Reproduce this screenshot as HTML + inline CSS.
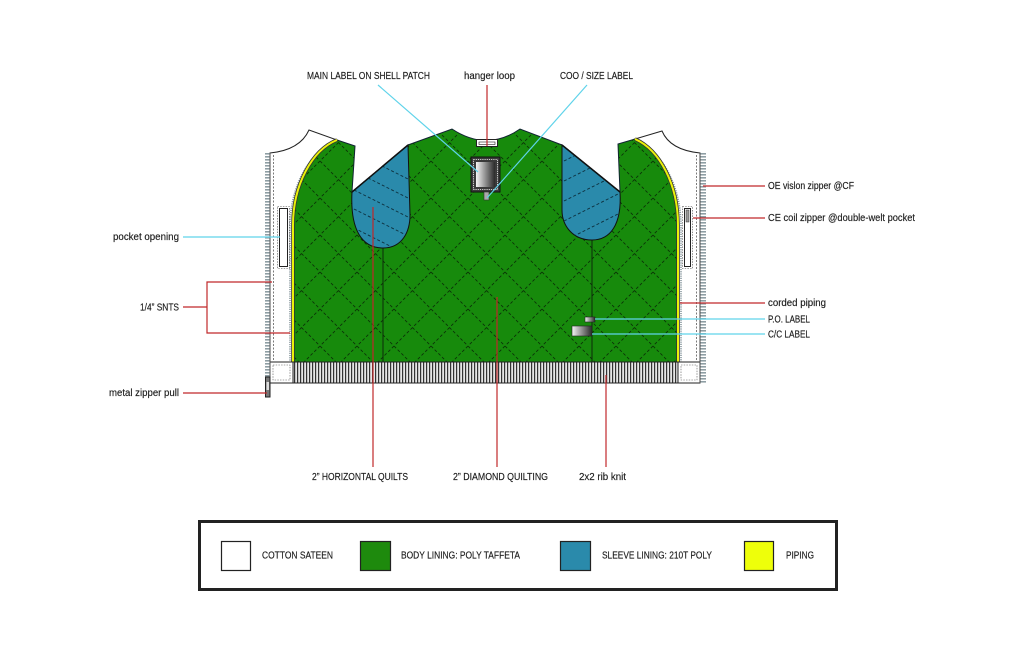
<!DOCTYPE html>
<html><head><meta charset="utf-8"><style>
html,body{margin:0;padding:0;background:#fff;}
svg{display:block;}
text{font-family:"Liberation Sans",sans-serif;font-size:10px;fill:#1a1a1a;stroke:#1a1a1a;stroke-width:0.15px;}
</style></head><body>
<svg width="1024" height="662" viewBox="0 0 1024 662" xmlns="http://www.w3.org/2000/svg">
<defs>
  <pattern id="quilt" patternUnits="userSpaceOnUse" width="37" height="37" patternTransform="translate(24,13)">
    <line x1="0" y1="0" x2="37" y2="37" stroke="#0a3306" stroke-width="0.9" stroke-dasharray="3 2.2"/>
    <line x1="37" y1="0" x2="0" y2="37" stroke="#0a3306" stroke-width="0.9" stroke-dasharray="3 2.2"/>
  </pattern>
  <pattern id="teeth" patternUnits="userSpaceOnUse" width="6" height="3">
    <rect x="0" y="0" width="6" height="1.6" fill="#8e9ea4"/>
  </pattern>
  <pattern id="rib" patternUnits="userSpaceOnUse" width="3" height="10">
    <rect x="0" y="0" width="3" height="10" fill="#e6e6e6"/>
    <rect x="0" y="0" width="1.2" height="10" fill="#333"/>
  </pattern>
  <linearGradient id="lg" x1="0" x2="1" y1="0" y2="0">
    <stop offset="0" stop-color="#f4f4f4"/>
    <stop offset="1" stop-color="#2a2a2a"/>
  </linearGradient>
  <clipPath id="clipL"><path d="M408,145 L352,192 C350,230 362,248 383,248 C402,248 410,232 410,215 Z"/></clipPath>
  <clipPath id="clipR"><path d="M562,145 L620,192 C622,225 610,240 592,240 C572,240 562,225 562,210 Z"/></clipPath>
</defs>

<!-- Green body -->
<path d="M337,140 L355,146 L352,192 L408,145 L452,129 Q487,152 520,129 L562,145 L620,192 L618,144 L635,139 C660,150 678,185 678,225 L678,362 L293,362 L293,225 C293,185 312,150 337,140 Z" fill="#178a0c" stroke="#123" stroke-width="1"/>
<path d="M337,140 L355,146 L352,192 L408,145 L452,129 Q487,152 520,129 L562,145 L620,192 L618,144 L635,139 C660,150 678,185 678,225 L678,362 L293,362 L293,225 C293,185 312,150 337,140 Z" fill="url(#quilt)"/>

<!-- princess seams -->
<line x1="383" y1="246" x2="383" y2="362" stroke="#0d2a0a" stroke-width="1"/>
<line x1="592" y1="238" x2="592" y2="362" stroke="#0d2a0a" stroke-width="1"/>

<!-- Blue sleeve linings -->
<path d="M408,145 L352,192 C350,230 362,248 383,248 C402,248 410,232 410,215 Z" fill="#2a8aab" stroke="#111" stroke-width="1"/>
<g clip-path="url(#clipL)" stroke="#0d2f3d" stroke-width="0.9" stroke-dasharray="3 2.2">
  <line x1="340" y1="145" x2="420" y2="185"/>
  <line x1="340" y1="164" x2="420" y2="204"/>
  <line x1="340" y1="183" x2="420" y2="223"/>
  <line x1="340" y1="202" x2="420" y2="242"/>
  <line x1="340" y1="221" x2="420" y2="261"/>
</g>
<path d="M562,145 L620,192 C622,225 610,240 592,240 C572,240 562,225 562,210 Z" fill="#2a8aab" stroke="#111" stroke-width="1"/>
<g clip-path="url(#clipR)" stroke="#0d2f3d" stroke-width="0.9" stroke-dasharray="3 2.2">
  <line x1="550" y1="168" x2="630" y2="128"/>
  <line x1="550" y1="188" x2="630" y2="148"/>
  <line x1="550" y1="208" x2="630" y2="168"/>
  <line x1="550" y1="228" x2="630" y2="188"/>
  <line x1="550" y1="248" x2="630" y2="208"/>
</g>
<line x1="408" y1="145" x2="352" y2="192" stroke="#111" stroke-width="1.5"/>
<line x1="562" y1="145" x2="620" y2="192" stroke="#111" stroke-width="1.5"/>

<!-- White front panels -->
<path d="M270,153 Q300,150 309,130 L337,140 C312,150 293,185 293,225 L293,383 L270,383 Z" fill="#fff" stroke="#222" stroke-width="1"/>
<path d="M700,153 Q670,150 662,131 L635,139 C660,150 678,185 678,225 L678,383 L700,383 Z" fill="#fff" stroke="#222" stroke-width="1"/>
<!-- stitching -->
<line x1="273.5" y1="155" x2="273.5" y2="381" stroke="#444" stroke-width="0.7" stroke-dasharray="2 1.5"/>
<line x1="696.5" y1="155" x2="696.5" y2="381" stroke="#444" stroke-width="0.7" stroke-dasharray="2 1.5"/>
<path d="M334,142 C310,152 290,186 290,226 L290,362" fill="none" stroke="#8a9aa0" stroke-width="1.6" stroke-dasharray="1.2 1"/>
<path d="M638,141 C662,152 681,186 681,226 L681,362" fill="none" stroke="#8a9aa0" stroke-width="1.6" stroke-dasharray="1.2 1"/>

<!-- piping -->
<path d="M337,140 C312,150 293,185 293,225 L293,362" fill="none" stroke="#333" stroke-width="3.6"/>
<path d="M337,140 C312,150 293,185 293,225 L293,362" fill="none" stroke="#eaf20a" stroke-width="2"/>
<path d="M635,139 C660,150 678,185 678,225 L678,362" fill="none" stroke="#333" stroke-width="3.6"/>
<path d="M635,139 C660,150 678,185 678,225 L678,362" fill="none" stroke="#eaf20a" stroke-width="2"/>

<!-- Rib knit -->
<rect x="293" y="362" width="385" height="21" fill="url(#rib)" stroke="#222" stroke-width="1"/>
<rect x="270" y="362" width="23" height="21" fill="#fff" stroke="#222" stroke-width="1"/>
<rect x="273" y="365" width="17" height="15" fill="none" stroke="#555" stroke-width="0.6" stroke-dasharray="1.5 1.2"/>
<rect x="678" y="362" width="22" height="21" fill="#fff" stroke="#222" stroke-width="1"/>
<rect x="681" y="365" width="16" height="15" fill="none" stroke="#555" stroke-width="0.6" stroke-dasharray="1.5 1.2"/>

<!-- Zipper teeth -->
<rect x="265" y="153" width="5" height="230" fill="url(#teeth)"/>
<line x1="270" y1="153" x2="270" y2="383" stroke="#555" stroke-width="0.8"/>
<rect x="700.5" y="153" width="5.5" height="230" fill="url(#teeth)"/>
<line x1="700" y1="153" x2="700" y2="383" stroke="#555" stroke-width="0.8"/>
<!-- zipper pull -->
<rect x="265.5" y="377" width="4.5" height="20" fill="#777" stroke="#222" stroke-width="1"/>
<rect x="266.5" y="382" width="2.5" height="8" fill="#ddd"/>

<!-- pockets -->
<rect x="277.5" y="206.5" width="12" height="62" fill="none" stroke="#444" stroke-width="0.6" stroke-dasharray="1.5 1.2"/>
<rect x="279.5" y="208.5" width="8" height="58" fill="#fff" stroke="#222" stroke-width="1"/>
<rect x="682.5" y="206.5" width="10" height="62" fill="none" stroke="#444" stroke-width="0.6" stroke-dasharray="1.5 1.2"/>
<rect x="684.5" y="208.5" width="6" height="58" fill="#fff" stroke="#222" stroke-width="1"/>
<rect x="686" y="210" width="3" height="12" fill="#999" stroke="#333" stroke-width="0.5"/>

<!-- labels -->
<rect x="585" y="317" width="10" height="5" fill="url(#lg)" stroke="#222" stroke-width="0.6"/>
<rect x="572" y="326" width="20" height="10" fill="url(#lg)" stroke="#222" stroke-width="0.6"/>
<!-- main label -->
<rect x="471" y="157" width="29" height="35" fill="#3a3a3a" stroke="#111" stroke-width="1"/>
<rect x="473.5" y="159.5" width="24" height="30" fill="none" stroke="#fff" stroke-width="0.8" stroke-dasharray="1.2 1"/>
<rect x="476" y="162" width="19" height="25" fill="url(#lg)"/>
<rect x="484" y="192" width="5" height="8" fill="#aaa" stroke="#333" stroke-width="0.6"/>
<!-- hanger loop -->
<rect x="476.5" y="139.5" width="21" height="7" fill="#fff" stroke="#222" stroke-width="1"/>
<rect x="479" y="142" width="16" height="2.5" fill="none" stroke="#222" stroke-width="0.6"/>

<!-- connectors -->
<g stroke="#5fd3ea" stroke-width="1.2" fill="none">
  <line x1="378" y1="85" x2="478" y2="172"/>
  <line x1="587" y1="85" x2="487" y2="198"/>
  <line x1="183" y1="237" x2="280" y2="237"/>
  <line x1="595" y1="319" x2="765" y2="319"/>
  <line x1="592" y1="334" x2="765" y2="334"/>
</g>
<g stroke="#c0282a" stroke-width="1.2" fill="none">
  <line x1="487" y1="85" x2="487" y2="146"/>
  <polyline points="183,307 207,307"/>
  <polyline points="272,282 207,282 207,333 290,333"/>
  <line x1="183" y1="393" x2="267" y2="393"/>
  <line x1="703" y1="186" x2="765" y2="186"/>
  <line x1="693" y1="218" x2="765" y2="218"/>
  <line x1="680" y1="303" x2="765" y2="303"/>
  <line x1="373" y1="207" x2="373" y2="467"/>
  <line x1="497" y1="297" x2="497" y2="467"/>
  <line x1="606" y1="375" x2="606" y2="467"/>
</g>

<!-- text -->
<text x="307" y="79" textLength="123" lengthAdjust="spacingAndGlyphs">MAIN LABEL ON SHELL PATCH</text>
<text x="464" y="79" textLength="51" lengthAdjust="spacingAndGlyphs">hanger loop</text>
<text x="560" y="79" textLength="73" lengthAdjust="spacingAndGlyphs">COO / SIZE LABEL</text>
<text x="113" y="240" textLength="66" lengthAdjust="spacingAndGlyphs">pocket opening</text>
<text x="140" y="310.5" textLength="39" lengthAdjust="spacingAndGlyphs">1/4” SNTS</text>
<text x="109" y="396" textLength="70" lengthAdjust="spacingAndGlyphs">metal zipper pull</text>
<text x="768" y="189" textLength="86" lengthAdjust="spacingAndGlyphs">OE vislon zipper @CF</text>
<text x="768" y="221" textLength="147" lengthAdjust="spacingAndGlyphs">CE coil zipper @double-welt pocket</text>
<text x="768" y="306" textLength="58" lengthAdjust="spacingAndGlyphs">corded piping</text>
<text x="768" y="322.5" textLength="42" lengthAdjust="spacingAndGlyphs">P.O. LABEL</text>
<text x="768" y="337.5" textLength="42" lengthAdjust="spacingAndGlyphs">C/C LABEL</text>
<text x="312" y="480" textLength="96" lengthAdjust="spacingAndGlyphs">2” HORIZONTAL QUILTS</text>
<text x="453" y="480" textLength="95" lengthAdjust="spacingAndGlyphs">2” DIAMOND QUILTING</text>
<text x="579" y="480" textLength="47" lengthAdjust="spacingAndGlyphs">2x2 rib knit</text>

<!-- Legend -->
<rect x="199.5" y="521.5" width="637" height="68" fill="#fff" stroke="#222" stroke-width="3"/>
<rect x="221.5" y="541.5" width="29" height="29" fill="#fff" stroke="#222" stroke-width="1.2"/>
<rect x="360.5" y="541.5" width="30" height="29" fill="#1e8a0d" stroke="#222" stroke-width="1.2"/>
<rect x="560.5" y="541.5" width="30" height="29" fill="#2a8aab" stroke="#222" stroke-width="1.2"/>
<rect x="744.5" y="541.5" width="29" height="29" fill="#eeff0a" stroke="#222" stroke-width="1.2"/>
<text x="262" y="558.5" textLength="71" lengthAdjust="spacingAndGlyphs">COTTON SATEEN</text>
<text x="401" y="558.5" textLength="119" lengthAdjust="spacingAndGlyphs">BODY LINING: POLY TAFFETA</text>
<text x="602" y="558.5" textLength="110" lengthAdjust="spacingAndGlyphs">SLEEVE LINING: 210T POLY</text>
<text x="786" y="558.5" textLength="28" lengthAdjust="spacingAndGlyphs">PIPING</text>
</svg>
</body></html>
